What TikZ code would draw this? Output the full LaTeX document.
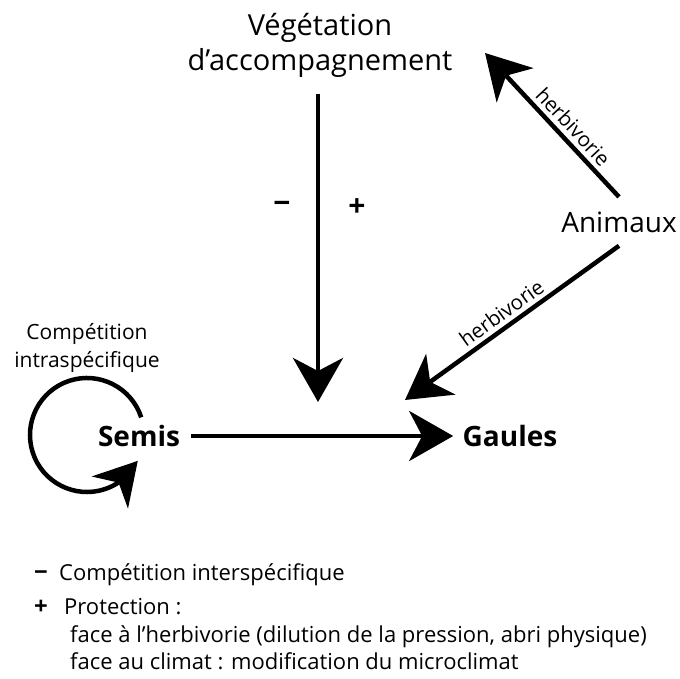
\documentclass[tikz,border=0pt]{standalone}
\usepackage{fontspec}
\setmainfont{Open Sans}
\usetikzlibrary{arrows.meta, bending, positioning}
\tikzset{
  fleche/.style={line width=4.5pt, -{Stealth[length=44pt, width=50pt, inset=13pt]}}, % gros traits noirs
  boucle/.style={line width=4.5pt, -{Stealth[length=42pt, width=48pt, inset=13pt, flex]}},
  titre/.style={font=\fontsize{29}{35}\selectfont, align=center},
  stade/.style={font=\fontsize{28}{30}\selectfont\bfseries, text height=22pt, text depth=0pt},
  signe/.style={font=\fontsize{30}{30}\selectfont\bfseries},
  petitsigne/.style={font=\fontsize{24}{24}\selectfont\bfseries, inner sep=0pt},
  etiq/.style={font=\fontsize{20.5}{24}\selectfont, sloped, above=1pt},
  legende/.style={font=\fontsize{22}{27}\selectfont, anchor=base west, inner sep=0pt},
}

\begin{document}
\begin{tikzpicture}[x=1pt, y=1pt]
  \useasboundingbox (0,0) rectangle (680,679);

  % noeuds
  \node[titre] (veg) at (320,634) {Végétation\\d’accompagnement};
  \node[font=\fontsize{28}{32}\selectfont, anchor=base] (anim) at (619,446) {Animaux};
  \node[stade, anchor=base] (semis) at (139,232) {Semis};
  \node[stade, anchor=base] (gaules) at (510,232) {Gaules};
  \node[font=\fontsize{21}{28}\selectfont, align=center] (intra) at (87,331) {Compétition\\intraspécifique};

  \coordinate (cible) at (318,277);
  \coordinate (cible2) at (405,279);
  \coordinate (cible3) at (485,626);
  \coordinate (centre) at (87,244);

  % fleches
  \draw[fleche] ([xshift=-2pt, yshift=-13pt]veg.south) -- (cible)
    node[signe, pos=0.37, xshift=-36pt] (moins) {−}
    node[signe, pos=0.37, xshift=39pt] (plus) {+};
  \draw[fleche, shorten <=8pt, shorten >=6pt] (semis) -- (gaules);
  \draw[fleche] ([yshift=-9pt]anim.south) -- node[etiq, pos=0.51] (h2) {herbivorie} (cible2);
  \draw[fleche] ([yshift=12pt]anim.north) -- node[etiq, pos=0.42] (h1) {herbivorie} (cible3);
  \draw[boucle] ([shift={(18:57)}]centre) arc[start angle=18, end angle=333, radius=57];

  % legende
  \node[legende] (leg1) at (59,98) {Compétition interspécifique};
  \node[petitsigne, left=11pt of leg1.base west, anchor=base east] (lm) {−};
  \node[legende] (leg2) at (64,64) {Protection :};
  \node[petitsigne, left=16pt of leg2.base west, anchor=base east] (lp) {+};
  \node[legende] (leg3) at (70,36) {face à l’herbivorie (dilution de la pression, abri physique)};
  \node[legende] (leg4) at (70,9) {face au climat : modification du microclimat};
\end{tikzpicture}
\end{document}
